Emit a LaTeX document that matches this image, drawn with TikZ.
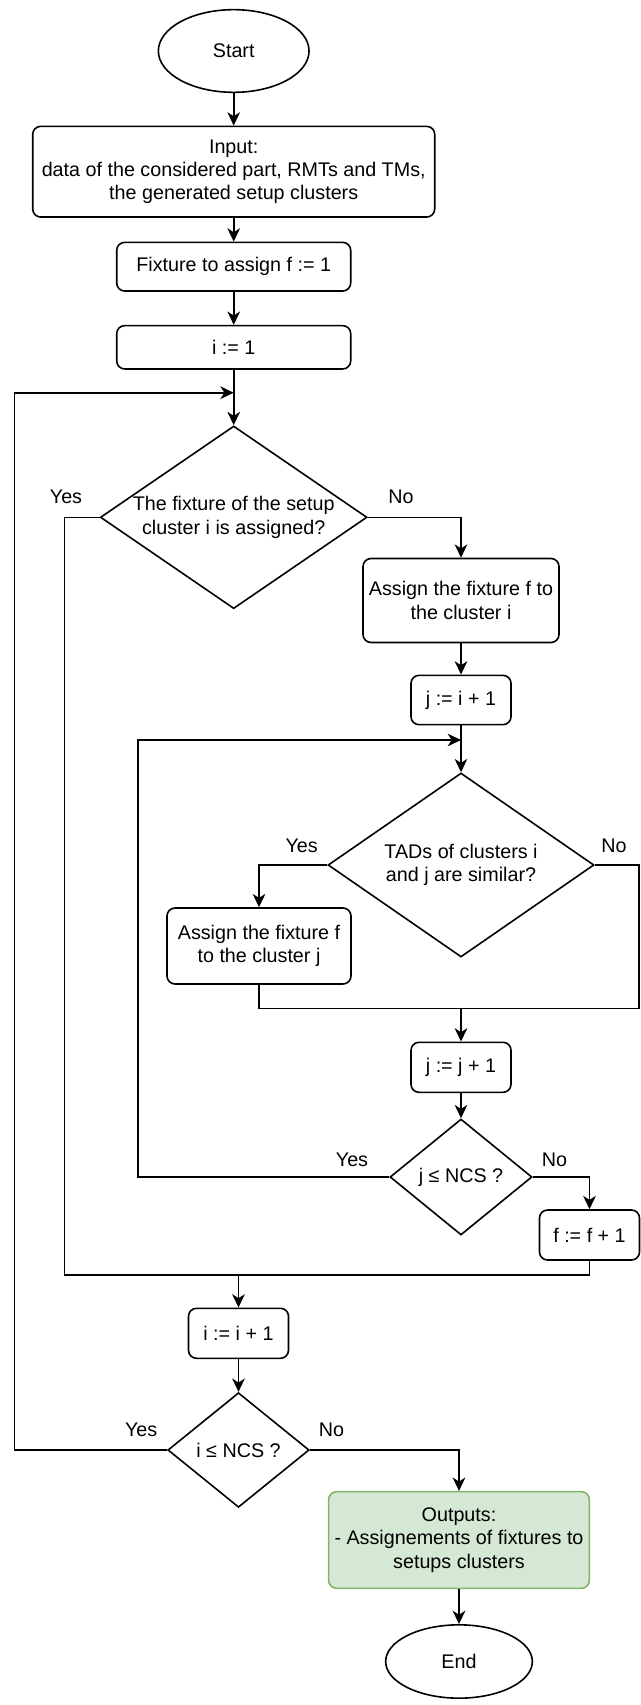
\documentclass[tikz,border=0pt]{standalone}
\usepackage{fontspec}
\setmainfont{Liberation Sans}
\usetikzlibrary{positioning,shapes.geometric,arrows.meta}
\definecolor{outfill}{HTML}{D5E8D4}
\definecolor{outdraw}{HTML}{82B366}
\tikzset{
box/.style={draw, rounded corners=6pt, align=center, inner sep=0pt, line width=1.2pt},
term/.style={draw, ellipse, inner sep=0pt, line width=1.2pt},
cond/.style={draw, diamond, align=center, inner sep=0pt, line width=1.2pt},
lab/.style={inner sep=0pt},
flow/.style={line width=1.2pt, -{Stealth[length=10pt,width=9.5pt,inset=3pt]}},
line/.style={line width=1.2pt}
}
\begin{document}
\begin{tikzpicture}[x=0.75pt,y=-0.75pt,font=\fontsize{14.8}{17.5}\selectfont]
\useasboundingbox (0,0) rectangle (641,1705);
\node[term, minimum width=113pt, minimum height=62pt] (start) at (233.7,51) {Start};
\node[box, minimum width=301.5pt, minimum height=68pt] (input) at (233.7,171.7) {Input:\\data of the considered part, RMTs and TMs,\\the generated setup clusters};
\node[box, minimum width=175.5pt, minimum height=36.5pt] (fix) at (233.7,266.7) {Fixture to assign f := 1};
\node[box, minimum width=175.5pt, minimum height=32.5pt] (ione) at (233.7,347.3) {i := 1};
\node[cond, aspect=1.46, minimum width=200pt, minimum height=137pt] (dec1) at (233.7,517.3) {The fixture of the setup\\cluster i is assigned?};
\node[box, minimum width=147pt, minimum height=63pt] (asgi) at (461,600.5) {Assign the fixture f to\\the cluster i};
\node[box, minimum width=75pt, minimum height=37pt] (jini) at (461,700) {j := i + 1};
\node[cond, aspect=1.45, minimum width=199.5pt, minimum height=138pt] (dec2) at (461,865) {TADs of clusters i\\and j are similar?};
\node[box, minimum width=138pt, minimum height=57pt] (asgj) at (259,946) {Assign the fixture f\\to the cluster j};
\node[box, minimum width=75pt, minimum height=37.5pt] (jinc) at (461,1067.3) {j := j + 1};
\node[cond, minimum width=106.5pt, minimum height=87pt] (dec3) at (461,1177) {j ≤ NCS ?};
\node[box, minimum width=75pt, minimum height=37.5pt] (finc) at (589.5,1235) {f := f + 1};
\node[box, minimum width=75pt, minimum height=37.5pt] (iinc) at (238.5,1333.3) {i := i + 1};
\node[cond, minimum width=106pt, minimum height=86pt] (dec4) at (238.5,1450) {i ≤ NCS ?};
\node[box, fill=outfill, draw=outdraw, minimum width=195.5pt, minimum height=72.5pt] (out) at (459,1540) {Outputs:\\- Assignements of fixtures to\\setups clusters};
\node[term, minimum width=110pt, minimum height=55pt] (stop) at (459,1661.5) {End};
% branch labels
\node[lab] (yes1) at (66,496.7) {Yes};
\node[lab] (no1) at (401,496.7) {No};
\node[lab] (yes2) at (301.7,846) {Yes};
\node[lab] (no2) at (614,846) {No};
\node[lab] (yes3) at (352,1159.3) {Yes};
\node[lab] (no3) at (554.6,1159.3) {No};
\node[lab] (yes4) at (141.2,1429.3) {Yes};
\node[lab] (no4) at (331.6,1429.3) {No};
% loop points
\coordinate (top1) at (233.7,392.7);
\coordinate (top2) at (461,740);
\coordinate (join1) at (238.5,1275);
\coordinate (join2) at (461,1008.3);
\coordinate (c1) at (64.3,517.3);
\coordinate (c2) at (639,865);
\coordinate (c3) at (138,1177);
\coordinate (c4) at (14.3,1450);
\draw[flow] (start) -- (input);
\draw[flow] (input) -- (fix);
\draw[flow] (fix) -- (ione);
\draw[flow] (ione) -- (dec1);
\draw[flow] (dec1.east) -| (asgi.north);
\draw[line] (dec1.west) -- (c1) |- (join1);
\draw[flow] (asgi) -- (jini);
\draw[flow] (jini) -- (dec2);
\draw[flow] (dec2.west) -| (asgj.north);
\draw[line] (dec2.east) -- (c2) |- (join2);
\draw[line] (asgj.south) |- (join2);
\draw[flow] (join2) -- (jinc);
\draw[flow] (jinc) -- (dec3);
\draw[flow] (dec3.west) -- (c3) |- (top2);
\draw[flow] (dec3.east) -| (finc.north);
\draw[line] (finc.south) |- (join1);
\draw[flow] (join1) -- (iinc);
\draw[flow] (iinc) -- (dec4);
\draw[flow] (dec4.west) -- (c4) |- (top1);
\draw[flow] (dec4.east) -| (out.north);
\draw[flow] (out) -- (stop);
\end{tikzpicture}
\end{document}
